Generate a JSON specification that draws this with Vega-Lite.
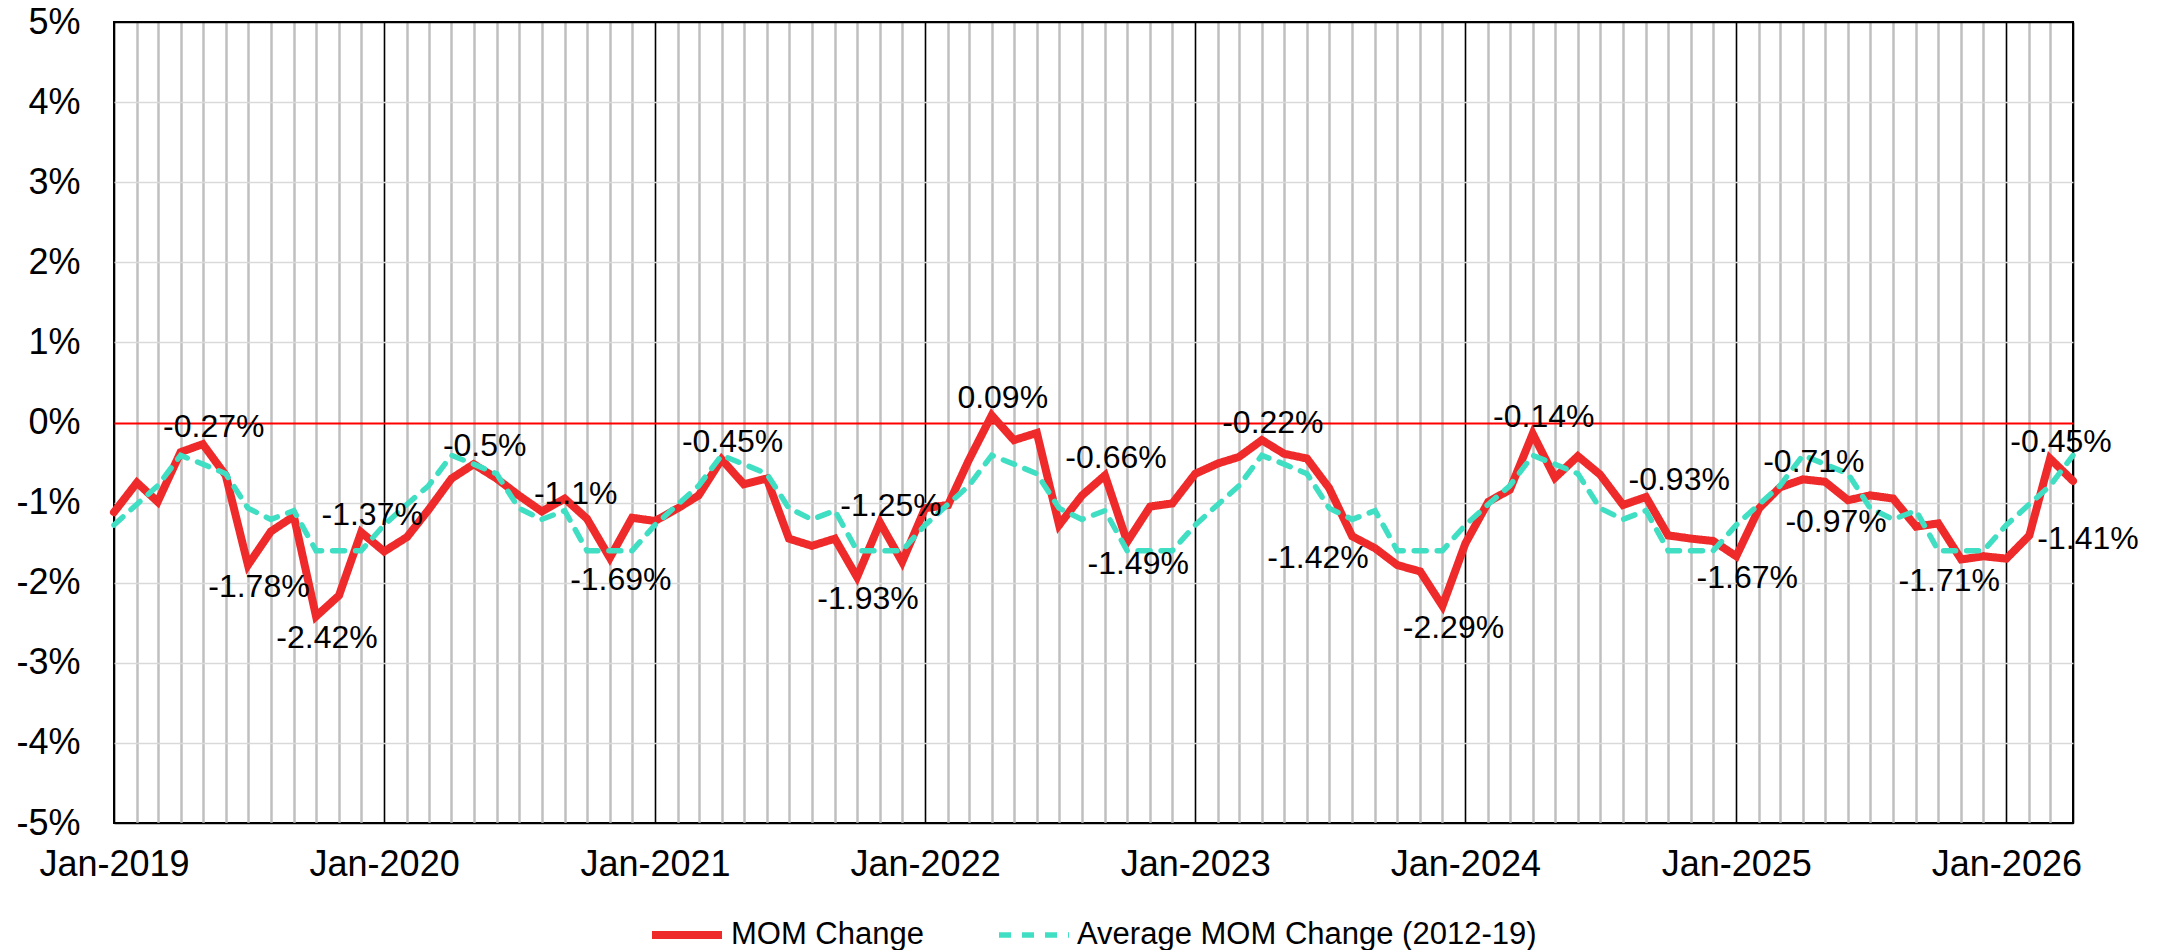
{
  "$schema": "https://vega.github.io/schema/vega-lite/v6.json",
  "width": 1959,
  "height": 801,
  "autosize": {"type": "none"},
  "padding": {"left": 114, "top": 22, "right": 87, "bottom": 127},
  "background": "white",
  "config": {
    "font": "Liberation Sans",
    "view": {"stroke": "black", "strokeWidth": 2}
  },
  "datasets": {
    "series": [
      {"date": "2019-01-01", "mom": -1.12, "avg": -1.28},
      {"date": "2019-02-01", "mom": -0.75, "avg": -1.02},
      {"date": "2019-03-01", "mom": -0.99, "avg": -0.79},
      {"date": "2019-04-01", "mom": -0.37, "avg": -0.41},
      {"date": "2019-05-01", "mom": -0.27, "avg": -0.52},
      {"date": "2019-06-01", "mom": -0.66, "avg": -0.64},
      {"date": "2019-07-01", "mom": -1.78, "avg": -1.07},
      {"date": "2019-08-01", "mom": -1.36, "avg": -1.21},
      {"date": "2019-09-01", "mom": -1.17, "avg": -1.1},
      {"date": "2019-10-01", "mom": -2.42, "avg": -1.6},
      {"date": "2019-11-01", "mom": -2.16, "avg": -1.6},
      {"date": "2019-12-01", "mom": -1.37, "avg": -1.6},
      {"date": "2020-01-01", "mom": -1.61, "avg": -1.28},
      {"date": "2020-02-01", "mom": -1.43, "avg": -1.02},
      {"date": "2020-03-01", "mom": -1.09, "avg": -0.79},
      {"date": "2020-04-01", "mom": -0.7, "avg": -0.41},
      {"date": "2020-05-01", "mom": -0.52, "avg": -0.52},
      {"date": "2020-06-01", "mom": -0.7, "avg": -0.64},
      {"date": "2020-07-01", "mom": -0.91, "avg": -1.07},
      {"date": "2020-08-01", "mom": -1.11, "avg": -1.21},
      {"date": "2020-09-01", "mom": -0.95, "avg": -1.1},
      {"date": "2020-10-01", "mom": -1.2, "avg": -1.6},
      {"date": "2020-11-01", "mom": -1.69, "avg": -1.6},
      {"date": "2020-12-01", "mom": -1.19, "avg": -1.6},
      {"date": "2021-01-01", "mom": -1.23, "avg": -1.28},
      {"date": "2021-02-01", "mom": -1.07, "avg": -1.02},
      {"date": "2021-03-01", "mom": -0.91, "avg": -0.79},
      {"date": "2021-04-01", "mom": -0.46, "avg": -0.41},
      {"date": "2021-05-01", "mom": -0.77, "avg": -0.52},
      {"date": "2021-06-01", "mom": -0.7, "avg": -0.64},
      {"date": "2021-07-01", "mom": -1.45, "avg": -1.07},
      {"date": "2021-08-01", "mom": -1.54, "avg": -1.21},
      {"date": "2021-09-01", "mom": -1.45, "avg": -1.1},
      {"date": "2021-10-01", "mom": -1.93, "avg": -1.6},
      {"date": "2021-11-01", "mom": -1.25, "avg": -1.6},
      {"date": "2021-12-01", "mom": -1.74, "avg": -1.6},
      {"date": "2022-01-01", "mom": -1.07, "avg": -1.28},
      {"date": "2022-02-01", "mom": -1.03, "avg": -1.02},
      {"date": "2022-03-01", "mom": -0.47, "avg": -0.79},
      {"date": "2022-04-01", "mom": 0.09, "avg": -0.41},
      {"date": "2022-05-01", "mom": -0.22, "avg": -0.52},
      {"date": "2022-06-01", "mom": -0.13, "avg": -0.64},
      {"date": "2022-07-01", "mom": -1.28, "avg": -1.07},
      {"date": "2022-08-01", "mom": -0.91, "avg": -1.21},
      {"date": "2022-09-01", "mom": -0.66, "avg": -1.1},
      {"date": "2022-10-01", "mom": -1.49, "avg": -1.6},
      {"date": "2022-11-01", "mom": -1.05, "avg": -1.6},
      {"date": "2022-12-01", "mom": -1.01, "avg": -1.6},
      {"date": "2023-01-01", "mom": -0.64, "avg": -1.28},
      {"date": "2023-02-01", "mom": -0.51, "avg": -1.02},
      {"date": "2023-03-01", "mom": -0.43, "avg": -0.79},
      {"date": "2023-04-01", "mom": -0.22, "avg": -0.41},
      {"date": "2023-05-01", "mom": -0.39, "avg": -0.52},
      {"date": "2023-06-01", "mom": -0.45, "avg": -0.64},
      {"date": "2023-07-01", "mom": -0.82, "avg": -1.07},
      {"date": "2023-08-01", "mom": -1.42, "avg": -1.21},
      {"date": "2023-09-01", "mom": -1.57, "avg": -1.1},
      {"date": "2023-10-01", "mom": -1.78, "avg": -1.6},
      {"date": "2023-11-01", "mom": -1.86, "avg": -1.6},
      {"date": "2023-12-01", "mom": -2.29, "avg": -1.6},
      {"date": "2024-01-01", "mom": -1.51, "avg": -1.28},
      {"date": "2024-02-01", "mom": -0.99, "avg": -1.02},
      {"date": "2024-03-01", "mom": -0.84, "avg": -0.79},
      {"date": "2024-04-01", "mom": -0.14, "avg": -0.41},
      {"date": "2024-05-01", "mom": -0.69, "avg": -0.52},
      {"date": "2024-06-01", "mom": -0.42, "avg": -0.64},
      {"date": "2024-07-01", "mom": -0.65, "avg": -1.07},
      {"date": "2024-08-01", "mom": -1.03, "avg": -1.21},
      {"date": "2024-09-01", "mom": -0.93, "avg": -1.1},
      {"date": "2024-10-01", "mom": -1.41, "avg": -1.6},
      {"date": "2024-11-01", "mom": -1.45, "avg": -1.6},
      {"date": "2024-12-01", "mom": -1.48, "avg": -1.6},
      {"date": "2025-01-01", "mom": -1.67, "avg": -1.28},
      {"date": "2025-02-01", "mom": -1.07, "avg": -1.02},
      {"date": "2025-03-01", "mom": -0.81, "avg": -0.79},
      {"date": "2025-04-01", "mom": -0.71, "avg": -0.41},
      {"date": "2025-05-01", "mom": -0.74, "avg": -0.52},
      {"date": "2025-06-01", "mom": -0.97, "avg": -0.64},
      {"date": "2025-07-01", "mom": -0.91, "avg": -1.07},
      {"date": "2025-08-01", "mom": -0.95, "avg": -1.21},
      {"date": "2025-09-01", "mom": -1.3, "avg": -1.1},
      {"date": "2025-10-01", "mom": -1.26, "avg": -1.6},
      {"date": "2025-11-01", "mom": -1.71, "avg": -1.6},
      {"date": "2025-12-01", "mom": -1.67, "avg": -1.6},
      {"date": "2026-01-01", "mom": -1.7, "avg": -1.28},
      {"date": "2026-02-01", "mom": -1.41, "avg": -1.02},
      {"date": "2026-03-01", "mom": -0.45, "avg": -0.79},
      {"date": "2026-04-01", "mom": -0.73, "avg": -0.41}
    ],
    "labels": [
      {"date": "2019-05-01", "value": -0.27, "label": "-0.27%", "side": "above"},
      {"date": "2019-07-01", "value": -1.78, "label": "-1.78%", "side": "below"},
      {"date": "2019-10-01", "value": -2.42, "label": "-2.42%", "side": "below"},
      {"date": "2019-12-01", "value": -1.37, "label": "-1.37%", "side": "above"},
      {"date": "2020-05-01", "value": -0.5, "label": "-0.5%", "side": "above"},
      {"date": "2020-09-01", "value": -1.1, "label": "-1.1%", "side": "above"},
      {"date": "2020-11-01", "value": -1.69, "label": "-1.69%", "side": "below"},
      {"date": "2021-04-01", "value": -0.45, "label": "-0.45%", "side": "above"},
      {"date": "2021-11-01", "value": -1.25, "label": "-1.25%", "side": "above"},
      {"date": "2021-10-01", "value": -1.93, "label": "-1.93%", "side": "below"},
      {"date": "2022-04-01", "value": 0.09, "label": "0.09%", "side": "above"},
      {"date": "2022-09-01", "value": -0.66, "label": "-0.66%", "side": "above"},
      {"date": "2022-10-01", "value": -1.49, "label": "-1.49%", "side": "below"},
      {"date": "2023-04-01", "value": -0.22, "label": "-0.22%", "side": "above"},
      {"date": "2023-06-01", "value": -1.42, "label": "-1.42%", "side": "below"},
      {"date": "2023-12-01", "value": -2.29, "label": "-2.29%", "side": "below"},
      {"date": "2024-04-01", "value": -0.14, "label": "-0.14%", "side": "above"},
      {"date": "2024-10-01", "value": -0.93, "label": "-0.93%", "side": "above"},
      {"date": "2025-01-01", "value": -1.67, "label": "-1.67%", "side": "below"},
      {"date": "2025-04-01", "value": -0.71, "label": "-0.71%", "side": "above"},
      {"date": "2025-05-01", "value": -0.97, "label": "-0.97%", "side": "below"},
      {"date": "2025-10-01", "value": -1.71, "label": "-1.71%", "side": "below"},
      {"date": "2026-03-01", "value": -0.45, "label": "-0.45%", "side": "above"},
      {"date": "2026-02-01", "value": -1.41, "label": "-1.41%", "side": "right"}
    ]
  },
  "layer": [
    {
      "data": {"name": "series"},
      "transform": [{"fold": ["mom", "avg"], "as": ["series", "value"]}],
      "mark": {"type": "line", "strokeCap": "round", "strokeJoin": "miter"},
      "encoding": {
        "x": {
          "field": "date",
          "type": "temporal",
          "scale": {"type": "utc", "domain": [{"year": 2019, "month": 1, "date": 1, "utc": true}, {"year": 2026, "month": 4, "date": 1, "utc": true}]},
          "axis": {
            "title": null,
            "domain": false,
            "ticks": false,
            "grid": true,
            "tickCount": {"interval": "month", "step": 1},
            "gridColor": {"condition": {"test": "utcmonth(datum.value) === 0 || (utcyear(datum.value) === 2026 && utcmonth(datum.value) === 3)", "value": "black"}, "value": "#BFBFBF"},
            "gridWidth": {"condition": {"test": "utcmonth(datum.value) === 0 || (utcyear(datum.value) === 2026 && utcmonth(datum.value) === 3)", "value": 1.6}, "value": 2.5},
            "gridOpacity": 1,
            "labelExpr": "utcmonth(datum.value) === 0 ? utcFormat(datum.value, '%b-%Y') : ''",
            "labelFontSize": 36,
            "labelColor": "black",
            "labelPadding": 24,
            "labelOverlap": false,
            "labelFlush": false,
            "labelBound": false
          }
        },
        "y": {
          "field": "value",
          "type": "quantitative",
          "scale": {"domain": [-5, 5], "nice": false, "zero": false},
          "axis": {
            "title": null,
            "domain": false,
            "ticks": false,
            "grid": true,
            "values": [-5, -4, -3, -2, -1, 0, 1, 2, 3, 4, 5],
            "gridColor": {"condition": [{"test": "datum.value === 0", "value": "#FF0000"}, {"test": "abs(datum.value) === 5", "value": "black"}], "value": "#D9D9D9"},
            "gridWidth": {"condition": {"test": "datum.value === 0", "value": 2}, "value": 1.6},
            "gridOpacity": 1,
            "labelExpr": "datum.value + '%'",
            "labelFontSize": 36,
            "labelColor": "black",
            "labelPadding": 34
          }
        },
        "color": {
          "field": "series",
          "type": "nominal",
          "scale": {"domain": ["mom", "avg"], "range": ["#EE2A2A", "#40DFC3"]},
          "legend": {
            "orient": "none", "legendX": 534, "legendY": 874, "direction": "horizontal", "title": null,
            "labelFontSize": 31, "labelColor": "black", "labelLimit": 900, "symbolType": "stroke", "symbolSize": 4900,
            "columnPadding": 64, "labelOffset": 5, "padding": 0,
            "labelExpr": "datum.label === 'mom' ? 'MOM Change' : 'Average MOM Change (2012-19)'"
          }
        },
        "strokeDash": {
          "field": "series",
          "type": "nominal",
          "scale": {"domain": ["mom", "avg"], "range": [[1, 0], [12, 11]]},
          "legend": {
            "orient": "none", "legendX": 534, "legendY": 874, "direction": "horizontal", "title": null,
            "labelFontSize": 31, "labelColor": "black", "labelLimit": 900, "symbolType": "stroke", "symbolSize": 4900,
            "columnPadding": 64, "labelOffset": 5, "padding": 0,
            "labelExpr": "datum.label === 'mom' ? 'MOM Change' : 'Average MOM Change (2012-19)'"
          }
        },
        "strokeWidth": {
          "field": "series",
          "type": "nominal",
          "scale": {"domain": ["mom", "avg"], "range": [8, 5.5]},
          "legend": {
            "orient": "none", "legendX": 534, "legendY": 874, "direction": "horizontal", "title": null,
            "labelFontSize": 31, "labelColor": "black", "labelLimit": 900, "symbolType": "stroke", "symbolSize": 4900,
            "columnPadding": 64, "labelOffset": 5, "padding": 0,
            "labelExpr": "datum.label === 'mom' ? 'MOM Change' : 'Average MOM Change (2012-19)'"
          }
        }
      }
    },
    {
      "data": {"name": "labels"},
      "transform": [{"filter": "datum.side === 'above'"}],
      "mark": {"type": "text", "fontSize": 32, "color": "black", "dx": 11, "dy": -17, "baseline": "middle", "align": "center"},
      "encoding": {
        "x": {"field": "date", "type": "temporal"},
        "y": {"field": "value", "type": "quantitative"},
        "text": {"field": "label"}
      }
    },
    {
      "data": {"name": "labels"},
      "transform": [{"filter": "datum.side === 'below'"}],
      "mark": {"type": "text", "fontSize": 32, "color": "black", "dx": 11, "dy": 22, "baseline": "middle", "align": "center"},
      "encoding": {
        "x": {"field": "date", "type": "temporal"},
        "y": {"field": "value", "type": "quantitative"},
        "text": {"field": "label"}
      }
    },
    {
      "data": {"name": "labels"},
      "transform": [{"filter": "datum.side === 'right'"}],
      "mark": {"type": "text", "fontSize": 32, "color": "black", "dx": 8, "dy": 4, "baseline": "middle", "align": "left"},
      "encoding": {
        "x": {"field": "date", "type": "temporal"},
        "y": {"field": "value", "type": "quantitative"},
        "text": {"field": "label"}
      }
    }
  ]
}
